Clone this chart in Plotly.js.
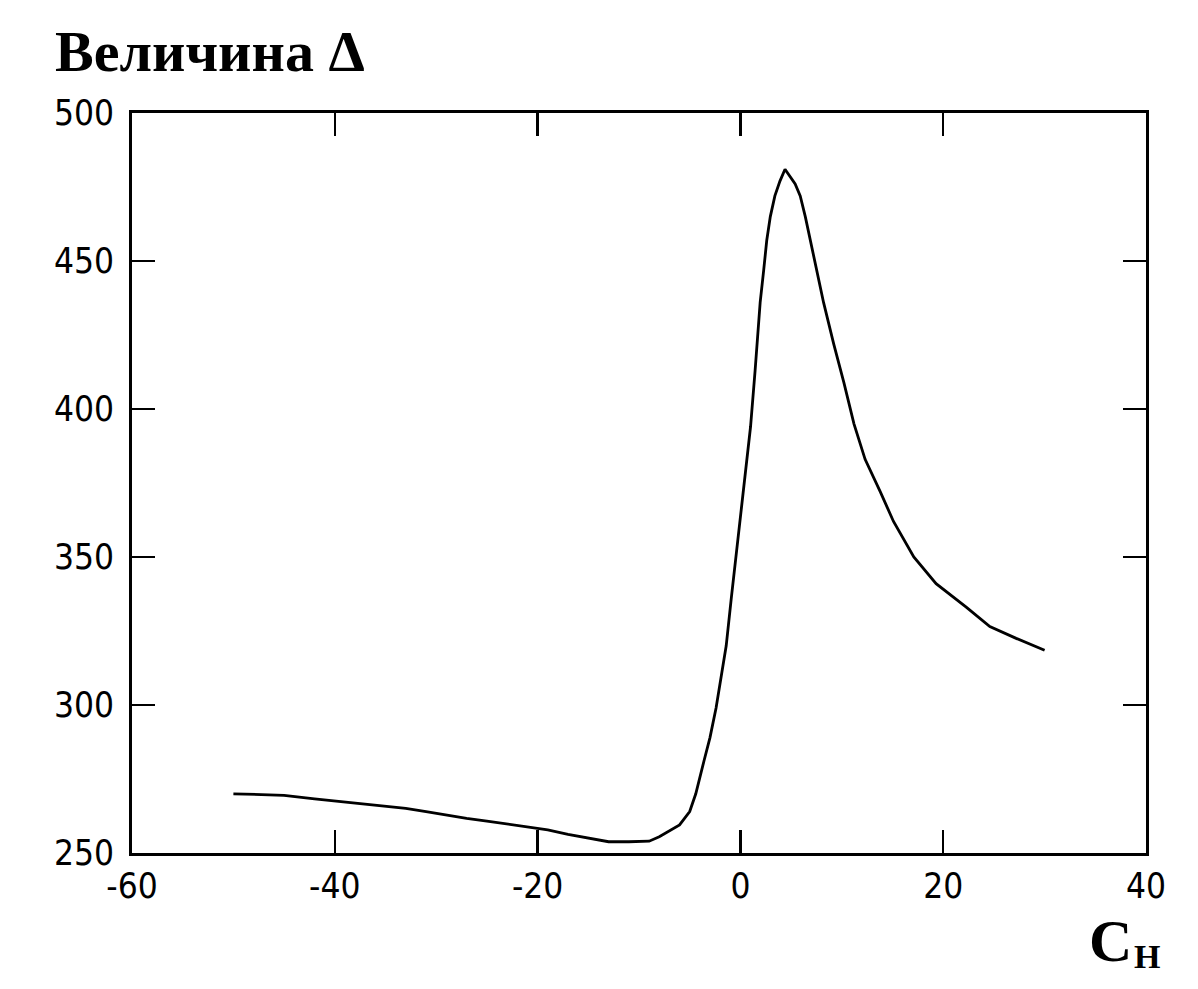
<!DOCTYPE html>
<html>
<head>
<meta charset="utf-8">
<script src="https://cdn.plot.ly/plotly-3.0.1.min.js"></script>
<style>html,body{margin:0;padding:0;background:#fff;}</style>
</head>
<body>
<div id="chart" style="width:1198px;height:989px;"></div>
<script>
const xValues = [-50,-45,-42,-39,-36,-33,-31,-29,-27,-25,-23,-21,-19,-17,-15,-13,-11,-9,-8,-7,-6,-5,-4.4,-3.6,-3,-2.4,-1.9,-1.4,-0.9,-0.6,0,0.5,1,1.45,1.7,1.95,2.3,2.6,2.95,3.4,3.9,4.4,5.4,5.9,6.4,6.9,7.55,8.2,9.2,10.2,11.2,12.3,13.8,15.1,17.1,19.3,22.3,24.6,27.2,30];
const deltaValues = [270,269.5,268.3,267.3,266.2,265.1,264,262.8,261.7,260.8,259.8,258.9,257.8,256.3,255,253.8,253.8,254,255.5,257.5,259.5,264,270,281,289,299,309,320,336,345,364,380,394,413,424,436,447,457,465,472,477,481,476,472,465,457,446,436,422,409,395,383,372,362,350,341,333,326.5,322.5,318.5];
const xTicks = [-60,-40,-20,0,20,40];
const yTicks = [250,300,350,400,450,500];
const titleText = 'Величина Δ';
const xLabelMain = 'С';
const xLabelSub = 'Н';

const tickFont = {family: '"Liberation Sans Narrow", "DejaVu Sans Condensed", "Liberation Sans", sans-serif', size: 35, color: '#000'};

const trace = {
  x: xValues, y: deltaValues, type: 'scatter', mode: 'lines',
  line: {color: '#000', width: 2.8}, hoverinfo: 'skip', showlegend: false
};

const layout = {
  width: 1198, height: 989,
  margin: {l: 132, r: 52, t: 113, b: 136},
  paper_bgcolor: '#fff', plot_bgcolor: '#fff',
  showlegend: false,
  title: {
    text: '<b>' + titleText + '</b>',
    font: {family: '"Liberation Serif", "Times New Roman", serif', size: 58, color: '#000'},
    x: 55/1198, xanchor: 'left', xref: 'container',
    y: 1 - 30/989, yanchor: 'top', yref: 'container'
  },
  xaxis: {
    range: [-60, 40], tickvals: xTicks, ticktext: xTicks.map(String),
    ticks: 'inside', ticklen: 23, tickwidth: 2.5, tickcolor: '#000',
    showline: true, linewidth: 3, linecolor: '#000', mirror: 'ticks',
    showgrid: false, zeroline: false, tickfont: tickFont, ticklabelstandoff: 0
  },
  yaxis: {
    range: [250, 500], tickvals: yTicks, ticktext: yTicks.map(String),
    ticks: 'inside', ticklen: 23, tickwidth: 2.5, tickcolor: '#000',
    showline: true, linewidth: 3, linecolor: '#000', mirror: 'ticks',
    showgrid: false, zeroline: false, tickfont: tickFont, ticklabelstandoff: 8
  },
  annotations: [
    {text: '<b>' + xLabelMain + '</b>', xref: 'paper', yref: 'paper', x: (1087-132)/1014, y: -(976-853)/740,
     xanchor: 'left', yanchor: 'bottom', showarrow: false,
     font: {family: '"Liberation Serif", "Times New Roman", serif', size: 60, color: '#000'}},
    {text: '<b>' + xLabelSub + '</b>', xref: 'paper', yref: 'paper', x: (1132-132)/1014, y: -(977-853)/740,
     xanchor: 'left', yanchor: 'bottom', showarrow: false,
     font: {family: '"Liberation Serif", "Times New Roman", serif', size: 34, color: '#000'}}
  ]
};

Plotly.newPlot('chart', [trace], layout, {displayModeBar: false, staticPlot: true});
</script>
</body>
</html>
